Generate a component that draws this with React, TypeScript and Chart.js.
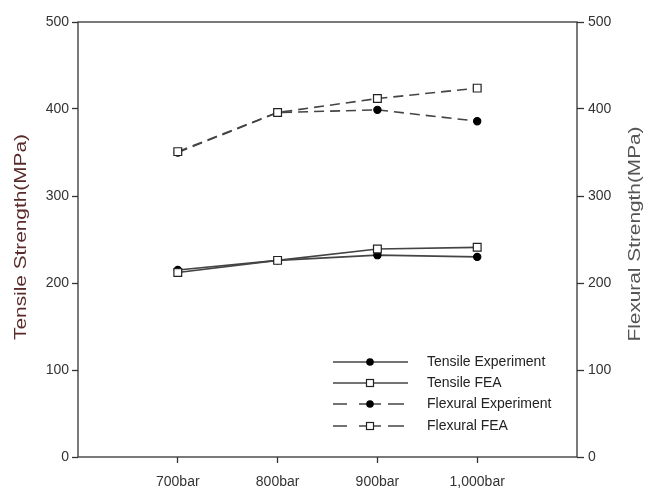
import React, { useEffect, useRef } from "react";
import { Chart, registerables } from "chart.js";

Chart.register(...registerables);

const categories = ["700bar", "800bar", "900bar", "1,000bar"];
const tensileExperiment = [215, 226, 232, 230];
const tensileFEA = [212, 226, 239, 241];
const flexuralExperiment = [350, 396, 399, 386];
const flexuralFEA = [351, 396, 412, 424];
const yTicks = [0, 100, 200, 300, 400, 500];

const FONT = "'Liberation Sans', Arial, sans-serif";
const LINE = "#444";

const toPoints = (arr: number[]) => arr.map((v, i) => ({ x: i, y: v }));

const framePlugin = {
  id: "frameAndLegend",
  afterDraw(chart: any) {
    const { ctx, chartArea } = chart;
    const { left, right, top, bottom } = chartArea;
    ctx.save();
    // frame
    ctx.strokeStyle = "#333";
    ctx.lineWidth = 1.3;
    ctx.strokeRect(left, top, right - left, bottom - top);

    // axis titles (long, narrow lettering like the reference)
    ctx.font = `16px ${FONT}`;
    ctx.textAlign = "center";
    ctx.textBaseline = "middle";
    ctx.fillStyle = "#5a2a2a";
    ctx.save();
    ctx.translate(22, 237);
    ctx.rotate(-Math.PI / 2);
    ctx.scale(1.3, 1);
    ctx.fillText("Tensile Strength(MPa)", 0, 0);
    ctx.restore();
    ctx.fillStyle = "#555";
    ctx.save();
    ctx.translate(636, 234);
    ctx.rotate(-Math.PI / 2);
    ctx.scale(1.3, 1);
    ctx.fillText("Flexural Strength(MPa)", 0, 0);
    ctx.restore();

    // legend
    const rows = [
      { label: "Tensile Experiment", dashed: false, style: "circle" },
      { label: "Tensile FEA", dashed: false, style: "rect" },
      { label: "Flexural Experiment", dashed: true, style: "circle" },
      { label: "Flexural FEA", dashed: true, style: "rect" },
    ];
    const ys = [362, 383, 404, 426];
    const x0 = 333, x1 = 408, xm = 370, tx = 427;
    rows.forEach((r, i) => {
      const y = ys[i];
      ctx.strokeStyle = LINE;
      ctx.lineWidth = 1.5;
      ctx.beginPath();
      if (r.dashed) {
        ctx.moveTo(x0, y);
        ctx.lineTo(x0 + 14, y);
        ctx.moveTo(xm - 11, y);
        ctx.lineTo(xm + 11, y);
        ctx.moveTo(x1 - 20, y);
        ctx.lineTo(x1 - 4, y);
      } else {
        ctx.moveTo(x0, y);
        ctx.lineTo(x1, y);
      }
      ctx.stroke();
      if (r.style === "circle") {
        ctx.fillStyle = "#000";
        ctx.beginPath();
        ctx.arc(xm, y, 3.8, 0, Math.PI * 2);
        ctx.fill();
      } else {
        ctx.fillStyle = "#fff";
        ctx.strokeStyle = "#222";
        ctx.lineWidth = 1.2;
        ctx.fillRect(xm - 3.5, y - 3.5, 7, 7);
        ctx.strokeRect(xm - 3.5, y - 3.5, 7, 7);
      }
      ctx.fillStyle = "#222";
      ctx.font = `14px ${FONT}`;
      ctx.textAlign = "left";
      ctx.textBaseline = "middle";
      ctx.fillText(r.label, tx, y);
    });
    ctx.restore();
  },
};

export default function App() {
  const canvasRef = useRef<HTMLCanvasElement | null>(null);

  useEffect(() => {
    if (!canvasRef.current) return;
    const common = {
      borderColor: LINE,
      borderWidth: 1.6,
      pointBorderColor: "#222",
      pointBorderWidth: 1.2,
      tension: 0,
    };
    const chart = new Chart(canvasRef.current, {
      type: "line",
      data: {
        datasets: [
          {
            ...common,
            label: "Tensile FEA",
            data: toPoints(tensileFEA),
            yAxisID: "y",
            pointStyle: "rect",
            pointRadius: 5.5,
            pointBackgroundColor: "#fff",
            order: 0,
          },
          {
            ...common,
            label: "Tensile Experiment",
            data: toPoints(tensileExperiment),
            yAxisID: "y",
            pointStyle: "circle",
            pointRadius: 3.6,
            pointBackgroundColor: "#000",
            pointBorderColor: "#000",
            order: 1,
          },
          {
            ...common,
            label: "Flexural FEA",
            data: toPoints(flexuralFEA),
            yAxisID: "y2",
            borderDash: [10, 6],
            pointStyle: "rect",
            pointRadius: 5.5,
            pointBackgroundColor: "#fff",
            order: 0,
          },
          {
            ...common,
            label: "Flexural Experiment",
            data: toPoints(flexuralExperiment),
            yAxisID: "y2",
            borderDash: [10, 6],
            pointStyle: "circle",
            pointRadius: 3.6,
            pointBackgroundColor: "#000",
            pointBorderColor: "#000",
            order: 1,
          },
        ],
      },
      options: {
        responsive: false,
        animation: false,
        layout: { padding: { top: 22, left: 0, right: 0, bottom: 0 } },
        plugins: { legend: { display: false }, tooltip: { enabled: false } },
        scales: {
          x: {
            type: "linear",
            min: -1,
            max: 4,
            afterBuildTicks: (scale: any) => {
              scale.ticks = categories.map((_, i) => ({ value: i }));
            },
            afterFit: (scale: any) => {
              scale.height = 31;
            },
            ticks: {
              callback: (v: any) => categories[v] ?? "",
              color: "#333",
              font: { family: FONT, size: 14 },
              padding: 11,
              maxRotation: 0,
              autoSkip: false,
            },
            grid: {
              drawOnChartArea: false,
              drawTicks: true,
              tickLength: 6,
              tickColor: "#333",
              tickWidth: 1.3,
            },
            border: { display: false },
          },
          y: {
            type: "linear",
            position: "left",
            min: 0,
            max: 500,
            afterBuildTicks: (scale: any) => {
              scale.ticks = yTicks.map((v) => ({ value: v }));
            },
            afterFit: (scale: any) => {
              scale.width = 78;
            },
            ticks: {
              color: "#333",
              font: { family: FONT, size: 14 },
              padding: 3,
            },
            grid: {
              drawOnChartArea: false,
              drawTicks: true,
              tickLength: 6,
              tickColor: "#333",
              tickWidth: 1.3,
            },
            border: { display: false },
          },
          y2: {
            type: "linear",
            position: "right",
            min: 0,
            max: 500,
            afterBuildTicks: (scale: any) => {
              scale.ticks = yTicks.map((v) => ({ value: v }));
            },
            afterFit: (scale: any) => {
              scale.width = 83;
            },
            ticks: {
              color: "#333",
              font: { family: FONT, size: 14 },
              padding: 4,
            },
            grid: {
              drawOnChartArea: false,
              drawTicks: true,
              tickLength: 7,
              tickColor: "#333",
              tickWidth: 1.3,
            },
            border: { display: false },
          },
        },
      },
      plugins: [framePlugin],
    } as any);
    return () => chart.destroy();
  }, []);

  return (
    <div style={{ position: "absolute", left: 0, top: 0, width: 660, height: 488, background: "#fff" }}>
      <canvas ref={canvasRef} width={660} height={488} />
    </div>
  );
}
